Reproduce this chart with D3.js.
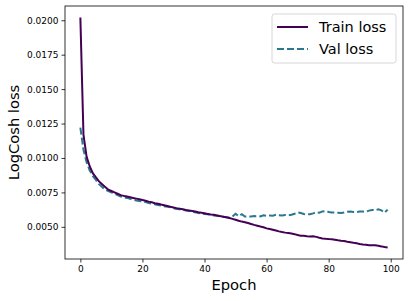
<!DOCTYPE html>
<html>
<head>
<meta charset="utf-8">
<script src="https://cdn.jsdelivr.net/npm/d3@7"></script>
<style>
  html, body { margin: 0; padding: 0; background: #fff; }
  svg { display: block; font-family: "DejaVu Sans", sans-serif; }
</style>
</head>
<body>
<div id="svgContainer"></div>
<script>
// Loss per epoch
const train_loss = [
  0.0202, 0.0117, 0.0101, 0.0094, 0.0089, 0.0086, 0.0083, 0.0081, 0.0079, 0.0077,
  0.0076, 0.0075, 0.0074, 0.0073, 0.00725, 0.0072, 0.00715, 0.0071, 0.00705, 0.0070,
  0.00695, 0.0069, 0.00683, 0.00678, 0.00672, 0.00668, 0.00662, 0.00657, 0.00652, 0.00646,
  0.00641, 0.00636, 0.00632, 0.00627, 0.00622, 0.00619, 0.00615, 0.00611, 0.00606, 0.00602,
  0.00598, 0.00594, 0.00590, 0.00587, 0.00583, 0.00578, 0.00574, 0.00569, 0.00564, 0.00558,
  0.00551, 0.00544, 0.00538, 0.00534, 0.00528, 0.00521, 0.00514, 0.00508, 0.00502, 0.00497,
  0.00489, 0.00484, 0.00479, 0.00473, 0.00467, 0.00462, 0.00458, 0.00455, 0.00451, 0.00447,
  0.00441, 0.00436, 0.00436, 0.00432, 0.00430, 0.00432, 0.00427, 0.00421, 0.00416, 0.00413,
  0.00411, 0.00410, 0.00407, 0.00402, 0.00399, 0.00397, 0.00392, 0.00388, 0.00384, 0.00381,
  0.00376, 0.00372, 0.00370, 0.00367, 0.00366, 0.00366, 0.00362, 0.00358, 0.00353, 0.00350
];
const val_loss = [
  0.0122, 0.0106, 0.0097, 0.0091, 0.0087, 0.0084, 0.0081, 0.0079, 0.0077, 0.0076,
  0.0075, 0.0074, 0.0073, 0.0072, 0.00715, 0.0071, 0.00703, 0.00698, 0.00692, 0.00688,
  0.00683, 0.00680, 0.00672, 0.00668, 0.00664, 0.00658, 0.00655, 0.00650, 0.00646, 0.00642,
  0.00634, 0.00630, 0.00627, 0.00625, 0.00618, 0.00615, 0.00612, 0.00606, 0.00601, 0.00598,
  0.00593, 0.00591, 0.00588, 0.00582, 0.00580, 0.00577, 0.00574, 0.00570, 0.00568, 0.00575,
  0.00595, 0.00578, 0.00592, 0.00575, 0.00576, 0.00575, 0.00578, 0.00577, 0.00576, 0.00584,
  0.00580, 0.00583, 0.00581, 0.00587, 0.00585, 0.00582, 0.00586, 0.00584, 0.00588, 0.00595,
  0.00605, 0.00600, 0.00593, 0.00590, 0.00592, 0.00598, 0.00606, 0.00603, 0.00612, 0.00615,
  0.00608, 0.00605, 0.00604, 0.00603, 0.00600, 0.00604, 0.00609, 0.00611, 0.00608, 0.00607,
  0.00612, 0.00611, 0.00609, 0.00618, 0.00623, 0.00620, 0.00628, 0.00620, 0.00603, 0.00625
];
const x_ticks = [0, 20, 40, 60, 80, 100];
const y_ticks = [0.0050, 0.0075, 0.0100, 0.0125, 0.0150, 0.0175, 0.0200];
const series_names = ["Train loss", "Val loss"];
const series_colors = ["#440154", "#2a788e"];

const width = 411;
const height = 301;
const margin = { left: 65, right: 8, top: 6, bottom: 42 };

const svg = d3.select("#svgContainer").append("svg")
  .attr("width", width)
  .attr("height", height);

// matplotlib-like 5% padding around the data
const n = train_loss.length;
const xPad = (n - 1) * 0.05;
const allVals = train_loss.concat(val_loss);
const yMin = d3.min(allVals), yMax = d3.max(allVals);
const yPad = (yMax - yMin) * 0.05;

const x = d3.scaleLinear()
  .domain([-xPad, n - 1 + xPad])
  .range([margin.left, width - margin.right]);
const y = d3.scaleLinear()
  .domain([yMin - yPad, yMax + yPad])
  .range([height - margin.bottom, margin.top]);

// Axes
const xAxis = svg.append("g")
  .attr("transform", `translate(0, ${height - margin.bottom})`)
  .call(d3.axisBottom(x).tickValues(x_ticks).tickFormat(d3.format("d")).tickSize(3.5).tickPadding(3));
const yAxis = svg.append("g")
  .attr("transform", `translate(${margin.left}, 0)`)
  .call(d3.axisLeft(y).tickValues(y_ticks).tickFormat(d3.format(".4f")).tickSize(3.5).tickPadding(3));

[xAxis, yAxis].forEach(ax => {
  ax.select(".domain").remove();
  ax.selectAll("text")
    .attr("font-family", "DejaVu Sans, sans-serif")
    .attr("font-size", "9px")
    .attr("fill", "#000");
  ax.selectAll("line").attr("stroke", "#000").attr("stroke-width", 0.8);
});

// Lines
const line = d3.line()
  .x((d, i) => x(i))
  .y(d => y(d));

svg.append("path")
  .datum(val_loss)
  .attr("d", line)
  .attr("fill", "none")
  .attr("stroke", series_colors[1])
  .attr("stroke-width", 2)
  .attr("stroke-dasharray", "7,3");

svg.append("path")
  .datum(train_loss)
  .attr("d", line)
  .attr("fill", "none")
  .attr("stroke", series_colors[0])
  .attr("stroke-width", 2);

// Frame
svg.append("rect")
  .attr("x", margin.left)
  .attr("y", margin.top)
  .attr("width", width - margin.left - margin.right)
  .attr("height", height - margin.top - margin.bottom)
  .attr("fill", "none")
  .attr("stroke", "#000")
  .attr("stroke-width", 0.8);

// Axis labels
svg.append("text")
  .attr("x", (margin.left + width - margin.right) / 2)
  .attr("y", 290)
  .attr("text-anchor", "middle")
  .attr("font-size", "14.7px")
  .attr("fill", "#000")
  .text("Epoch");

svg.append("text")
  .attr("transform", `translate(19, ${(margin.top + height - margin.bottom) / 2}) rotate(-90)`)
  .attr("text-anchor", "middle")
  .attr("font-size", "14.7px")
  .attr("fill", "#000")
  .text("LogCosh loss");

// Legend
const legend = svg.append("g");
legend.append("rect")
  .attr("x", 272)
  .attr("y", 14)
  .attr("width", 124)
  .attr("height", 49)
  .attr("rx", 2.5)
  .attr("fill", "#fff")
  .attr("fill-opacity", 0.8)
  .attr("stroke", "#ccc")
  .attr("stroke-width", 0.8);

series_names.forEach((name, i) => {
  const ly = 27 + i * 22;
  legend.append("line")
    .attr("x1", 277).attr("x2", 308)
    .attr("y1", ly).attr("y2", ly)
    .attr("stroke", series_colors[i])
    .attr("stroke-width", 2)
    .attr("stroke-dasharray", i === 1 ? "7,3" : null);
  legend.append("text")
    .attr("x", 319)
    .attr("y", ly + 5)
    .attr("font-size", "14.5px")
    .attr("fill", "#000")
    .text(name);
});
</script>
</body>
</html>
